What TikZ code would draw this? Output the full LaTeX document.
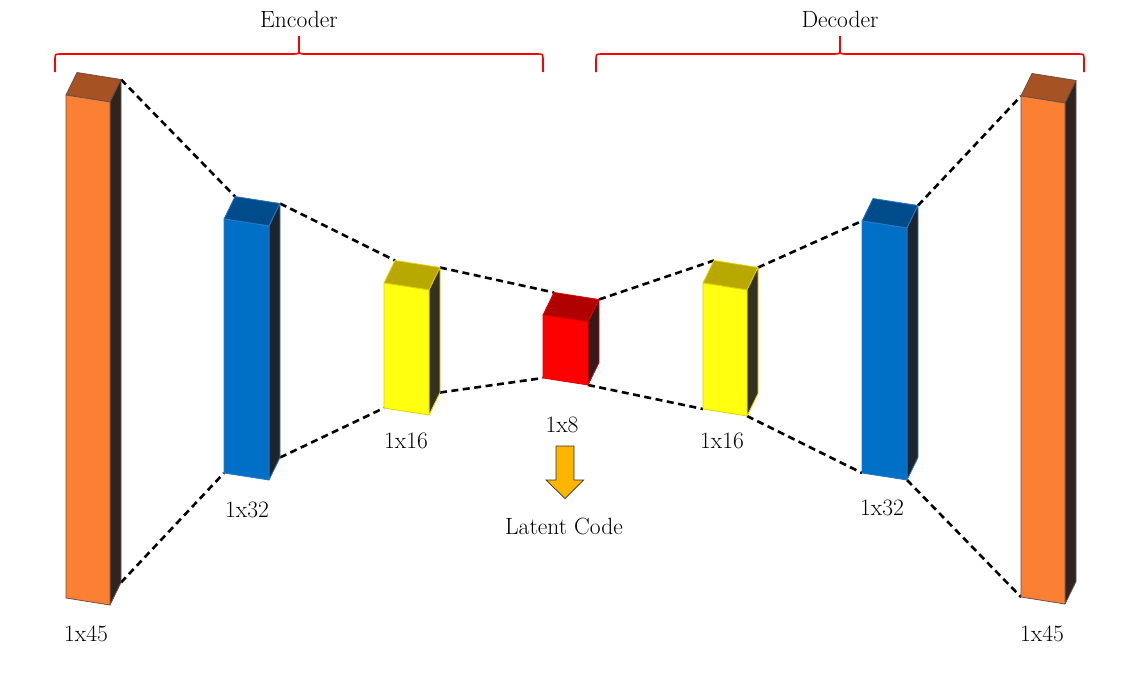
\documentclass[tikz,border=0pt]{standalone}
\usepackage{fontspec}
\usetikzlibrary{calc}
\definecolor{orF}{RGB}{252,128,52}
\definecolor{orT}{RGB}{166,82,34}
\definecolor{orS}{RGB}{47,37,32}
\definecolor{orE}{RGB}{110,80,70}
\definecolor{blF}{RGB}{0,112,198}
\definecolor{blT}{RGB}{0,76,138}
\definecolor{blS}{RGB}{30,36,46}
\definecolor{blE}{RGB}{40,120,200}
\definecolor{yeF}{RGB}{255,255,16}
\definecolor{yeT}{RGB}{184,168,0}
\definecolor{yeS}{RGB}{52,50,30}
\definecolor{yeE}{RGB}{225,210,0}
\definecolor{reF}{RGB}{255,0,0}
\definecolor{reT}{RGB}{176,0,0}
\definecolor{reS}{RGB}{52,26,26}
\definecolor{reE}{RGB}{225,0,0}
\definecolor{arF}{RGB}{255,180,0}
\newcommand{\cub}[5]{%
  \coordinate (#1ftl) at (#2,#3);
  \coordinate (#1ftr) at ({#2+#5},{#3+7});
  \coordinate (#1fbl) at (#2,#4);
  \coordinate (#1fbr) at ({#2+#5},{#4+7});
  \coordinate (#1btl) at ($(#1ftl)+(11,-22.5)$);
  \coordinate (#1btr) at ($(#1ftr)+(11,-22.5)$);
  \coordinate (#1bbr) at ($(#1fbr)+(11,-22.5)$);
}
\newcommand{\cubdraw}[5]{%
  \filldraw[fill=#3, draw=#5, line width=0.8pt, line join=round] (#1ftl)--(#1ftr)--(#1btr)--(#1btl)--cycle;
  \filldraw[fill=#4, draw=#5, line width=0.8pt, line join=round] (#1ftr)--(#1btr)--(#1bbr)--(#1fbr)--cycle;
  \filldraw[fill=#2, draw=#5, line width=0.8pt, line join=round] (#1ftl)--(#1ftr)--(#1fbr)--(#1fbl)--cycle;
}
\tikzset{
  conn/.style={black, line width=2.6pt, dash pattern=on 7pt off 4.5pt},
  bracestyle/.style={red, line width=1.6pt, line join=round},
  lbl/.style={inner sep=0pt, font=\fontsize{23.5}{28}\selectfont},
}
\begin{document}
\begin{tikzpicture}[x=1pt,y=-1pt]
\useasboundingbox (0,0) rectangle (1140,675);
% geometry
\cub{oa}{66}{95}{598}{44}
\cub{ba}{224}{219}{473}{45}
\cub{ya}{384}{283}{408}{45}
\cub{rc}{543}{315}{378}{45}
\cub{yb}{703}{283}{409}{44}
\cub{bb}{862}{221}{473}{45}
\cub{ob}{1021}{96}{597}{44}
% connectors
\draw[conn] (oabtr) -- (babtl);
\draw[conn] (babtr) -- (yabtl);
\draw[conn] (yabtr) -- (rcbtl);
\draw[conn] (rcbtr) -- (ybbtl);
\draw[conn] (ybbtr) -- (bbftl);
\draw[conn] (bbbtr) -- (obftl);
\draw[conn] (oabbr) -- (bafbl);
\draw[conn] (babbr) -- (yafbl);
\draw[conn] (yabbr) -- (rcfbl);
\draw[conn] (rcfbr) -- (ybfbl);
\draw[conn] (ybfbr) -- (bbfbl);
\draw[conn] (bbfbr) -- (obfbl);
% boxes
\cubdraw{oa}{orF}{orT}{orS}{orE}
\cubdraw{ba}{blF}{blT}{blS}{blE}
\cubdraw{ya}{yeF}{yeT}{yeS}{yeE}
\cubdraw{rc}{reF}{reT}{reS}{reE}
\cubdraw{yb}{yeF}{yeT}{yeS}{yeE}
\cubdraw{bb}{blF}{blT}{blS}{blE}
\cubdraw{ob}{orF}{orT}{orS}{orE}
% labels
\node[lbl] (loa) at (86,634) {1x45};
\node[lbl] (lba) at (247,510) {1x32};
\node[lbl] (lya) at (406,441) {1x16};
\node[lbl] (lrc) at (562,425) {1x8};
\node[lbl] (lyb) at (722,441) {1x16};
\node[lbl] (lbb) at (882,508) {1x32};
\node[lbl] (lob) at (1042,634) {1x45};
\node[lbl] (lat) at (564,526) {Latent Code};
% latent arrow
\filldraw[fill=arF, draw=black!80, line width=0.7pt, line join=miter]
  (556,446) -- (574,446) -- (574,480) -- (583.5,480) -- (565,498.5) -- (546,480) -- (556,480) -- cycle;
% braces
\draw[bracestyle] (55,72) -- (55,60) .. controls (55,54) .. (61,54) -- (293,54) .. controls (299,54) .. (299,48) -- (299,36)
  (299,48) .. controls (299,54) .. (305,54) -- (537,54) .. controls (543,54) .. (543,60) -- (543,72);
\draw[bracestyle] (596,72) -- (596,60) .. controls (596,54) .. (602,54) -- (834,54) .. controls (840,54) .. (840,48) -- (840,36)
  (840,48) .. controls (840,54) .. (846,54) -- (1078,54) .. controls (1084,54) .. (1084,60) -- (1084,72);
\node[lbl] (enc) at (299,19) {Encoder};
\node[lbl] (dec) at (840,19) {Decoder};
\end{tikzpicture}
\end{document}
